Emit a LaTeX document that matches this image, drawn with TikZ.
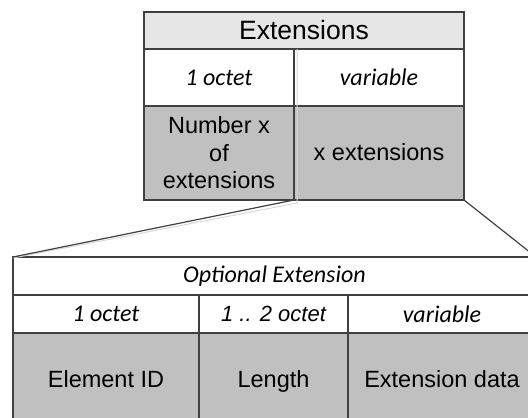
\documentclass[tikz,border=0pt]{standalone}
\usepackage{fontspec}
\setmainfont{Liberation Sans}
\newfontfamily\calit{Carlito}[ItalicFont=* Italic]
\definecolor{linec}{HTML}{404040}
\definecolor{hdrfill}{HTML}{E6E6E6}
\definecolor{cellfill}{HTML}{C0C0C0}
\definecolor{shadowc}{HTML}{D8D8D8}
\tikzset{
  cell/.style={draw=linec, line width=1.2pt, inner sep=0pt, outer sep=0pt, anchor=north west, align=center, text=black},
  hdr/.style={cell, fill=hdrfill, font=\fontsize{26.5}{30}\selectfont},
  lab/.style={cell, fill=white, font=\calit\itshape\fontsize{24}{28}\selectfont},
  data/.style={cell, fill=cellfill, font=\fontsize{23.5}{27.5}\selectfont},
  oneline/.style={text height=21pt, text depth=7pt},
  conn/.style={draw=linec, line width=1.2pt},
  shade/.style={draw=shadowc, line width=1pt}
}
\begin{document}
\begin{tikzpicture}[x=1pt,y=-1pt]
\useasboundingbox (0,0) rectangle (528,418);
\clip (0,0) rectangle (528,418);
% bottom table
\node[lab, minimum width=523pt, minimum height=38pt] (ohdr) at (13,257) {Optional Extension};
\node[lab, minimum width=186pt, minimum height=38pt] (o1) at (13,295) {1 octet};
\node[cell, fill=white, font=\itshape\fontsize{22}{26}\selectfont, minimum width=149pt, minimum height=38pt] (o2) at (199,295) {1 .. 2 octet};
\node[lab, minimum width=188pt, minimum height=38pt] (o3) at (348,295) {variable};
\node[data, oneline, minimum width=186pt, minimum height=94pt] (eid) at (13,333) {Element ID};
\node[data, oneline, minimum width=149pt, minimum height=94pt] (len) at (199,333) {Length};
\node[data, oneline, minimum width=188pt, minimum height=94pt] (edata) at (348,333) {Extension data};
% top table
\node[hdr, minimum width=320pt, minimum height=37pt] (ext) at (144,12) {Extensions};
\node[lab, minimum width=150pt, minimum height=57pt] (t1) at (144,49) {1 octet};
\node[lab, minimum width=170pt, minimum height=57pt] (t2) at (294,49) {variable};
\node[data, minimum width=150pt, minimum height=94pt] (num) at (144,106) {Number x\\of\\extensions};
\node[data, oneline, minimum width=170pt, minimum height=94pt] (xext) at (294,106) {x extensions};
% shadow of divider and connector
\draw[shade] ([xshift=3pt]t2.north west) -- ([xshift=3pt,yshift=-3pt]xext.south west) -- ([yshift=-1pt]ohdr.north west);
% connectors
\draw[conn] (num.south east) -- (ohdr.north west);
\draw[conn] (xext.south east) -- (ohdr.north east);
\end{tikzpicture}
\end{document}
